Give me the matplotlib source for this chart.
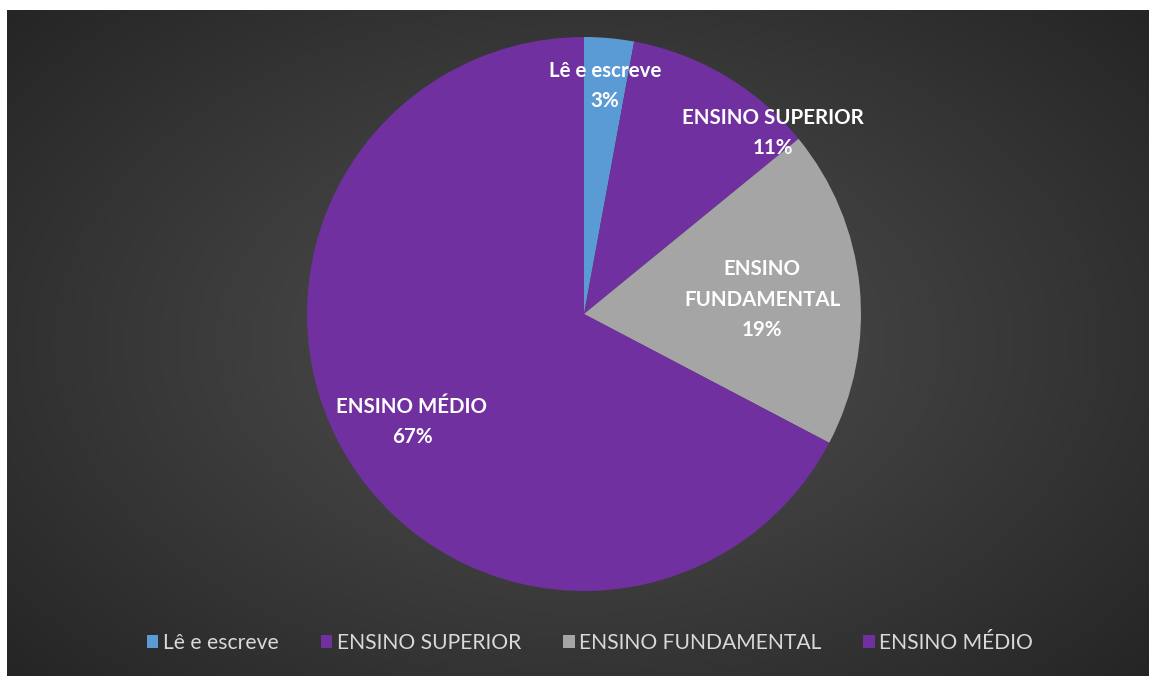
import numpy as np
import matplotlib
matplotlib.use("Agg")
import matplotlib.pyplot as plt
from matplotlib.patches import Patch

categories = ["Lê e escreve", "ENSINO SUPERIOR", "ENSINO FUNDAMENTAL", "ENSINO MÉDIO"]
values = [2.9, 11.2, 18.6, 67.3]
label_texts = ["Lê e escreve", "ENSINO SUPERIOR", "ENSINO\nFUNDAMENTAL", "ENSINO MÉDIO"]
colors = ["#5B9BD5", "#7030A0", "#A5A5A5", "#7030A0"]

W, H = 1149, 676
fig = plt.figure(figsize=(W / 100, H / 100), dpi=100, facecolor="white")

# background panel with radial gradient
bg = fig.add_axes([7 / W, 0, 1 - 7 / W, 1 - 10 / H])
bg.set_axis_off()
nx, ny = 600, 350
xs = np.linspace(-1, 1, nx)
ys = np.linspace(-1, 1, ny)
X, Y = np.meshgrid(xs, ys)
R = np.sqrt(X ** 2 + (Y * 0.9) ** 2) / np.sqrt(1 + 0.81)
inner, outer = 0x4E / 255, 0x25 / 255
G = inner + (outer - inner) * np.clip(R, 0, 1) ** 1.1
img = np.dstack([G, G, G])
bg.imshow(img, aspect="auto", extent=[0, 1, 0, 1], interpolation="bilinear")
bg.set_xlim(0, 1)
bg.set_ylim(0, 1)

# pie axes
cx, cy, r = 584, 314, 277
ax = fig.add_axes([(cx - r) / W, (H - cy - r) / H, 2 * r / W, 2 * r / H])
ax.set_axis_off()
wedges, _ = ax.pie(values, colors=colors, startangle=90, counterclock=False,
                   radius=1, wedgeprops=dict(linewidth=0))
ax.set_xlim(-1, 1)
ax.set_ylim(-1, 1)

total = sum(values)
label_pos = [(0.076, 0.823), (0.682, 0.653), (0.643, 0.051), (-0.621, -0.390)]
for txt, v, (lx, ly) in zip(label_texts, values, label_pos):
    ax.text(lx, ly, f"{txt}\n{round(100 * v / total):.0f}%", ha="center", va="center",
            color="white", fontsize=14.8, fontweight="bold", family="Lato",
            linespacing=1.65)

handles = [Patch(facecolor=c, edgecolor="none") for c in colors]
leg = fig.legend(handles, categories, loc="center", bbox_to_anchor=(590 / W, 1 - 643 / H),
                 ncol=4, frameon=False, handlelength=0.55, handleheight=0.55,
                 handletextpad=0.2, columnspacing=2.0,
                 prop=dict(family="Lato", size=15.2))
for t in leg.get_texts():
    t.set_color("#D9D9D9")

fig.savefig("out.png", dpi=100, facecolor="white")
